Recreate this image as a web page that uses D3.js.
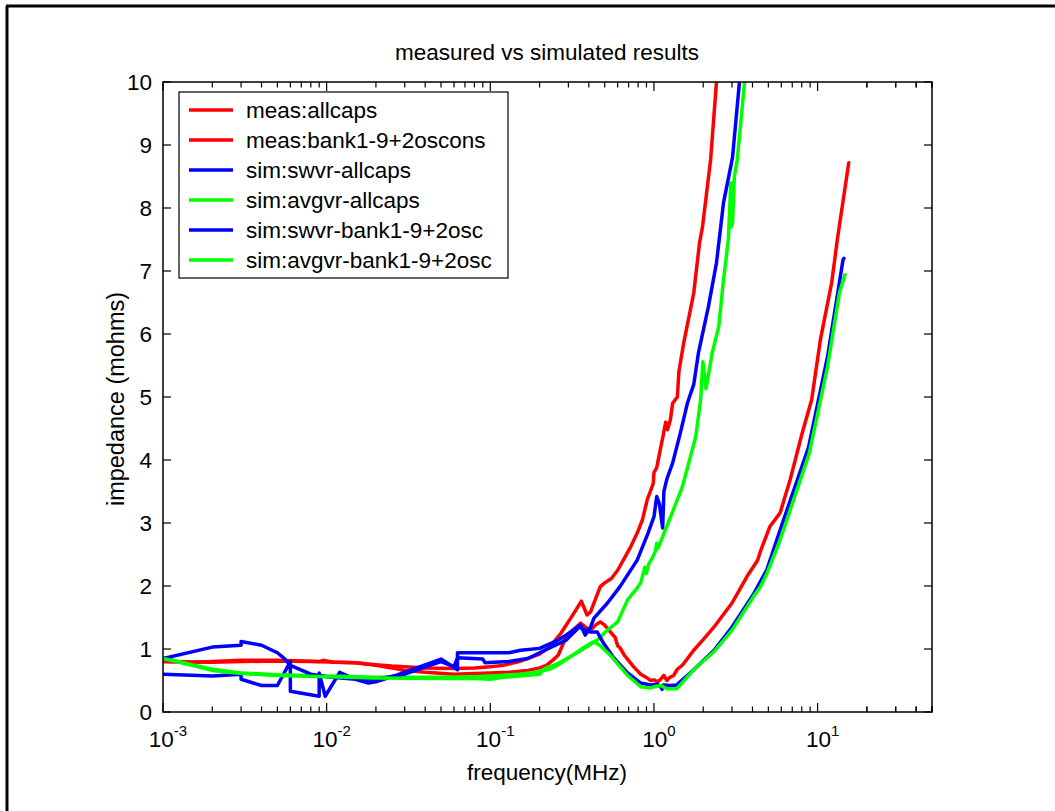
<!DOCTYPE html>
<html><head><meta charset="utf-8">
<script src="https://cdn.jsdelivr.net/npm/d3@7"></script>
<style>
html,body{margin:0;padding:0;background:#fff;}
text{font-family:"Liberation Sans",Arial,sans-serif;fill:#000;}
</style></head>
<body>
<svg id="c" width="1055" height="811"></svg>
<script>
// ---- data (frequency MHz, impedance mohms) ----
const seriesNames = ["meas:allcaps","meas:bank1-9+2oscons","sim:swvr-allcaps","sim:avgvr-allcaps","sim:swvr-bank1-9+2osc","sim:avgvr-bank1-9+2osc"];
const seriesColors = ["#ff0000","#ff0000","#0000ff","#00ff00","#0000ff","#00ff00"];

const measAllcaps = [[0.001,0.80],[0.0015,0.79],[0.002,0.80],[0.003,0.82],[0.005,0.82],[0.007,0.81],[0.009,0.80],[0.0095,0.82],[0.011,0.79],[0.015,0.78],[0.02,0.75],[0.025,0.73],[0.03,0.72],[0.04,0.70],[0.06,0.69],[0.08,0.70],[0.1,0.72],[0.12,0.74],[0.15,0.80],[0.2,0.92],[0.23,1.03],[0.27,1.25],[0.31,1.49],[0.33,1.60],[0.36,1.76],[0.39,1.54],[0.41,1.59],[0.44,1.80],[0.47,1.99],[0.5,2.05],[0.55,2.12],[0.6,2.25],[0.65,2.41],[0.72,2.62],[0.79,2.84],[0.85,3.05],[0.91,3.37],[0.95,3.5],[0.99,3.63],[1.0,3.8],[1.04,3.88],[1.1,4.2],[1.14,4.4],[1.18,4.6],[1.21,4.48],[1.26,4.64],[1.3,4.9],[1.39,5.0],[1.42,5.4],[1.52,5.86],[1.75,6.65],[1.9,7.45],[1.98,7.7],[2.22,8.77],[2.41,10.0]];

const measBank = [[0.001,0.80],[0.002,0.79],[0.003,0.80],[0.005,0.81],[0.008,0.80],[0.012,0.79],[0.015,0.78],[0.02,0.74],[0.025,0.70],[0.03,0.66],[0.04,0.63],[0.06,0.60],[0.08,0.61],[0.1,0.62],[0.13,0.63],[0.17,0.66],[0.2,0.70],[0.22,0.74],[0.24,0.82],[0.26,0.90],[0.29,1.19],[0.32,1.3],[0.356,1.41],[0.38,1.35],[0.41,1.3],[0.44,1.38],[0.47,1.43],[0.5,1.38],[0.53,1.3],[0.58,1.18],[0.6,1.05],[0.62,1.02],[0.66,0.9],[0.75,0.72],[0.83,0.6],[0.91,0.54],[0.95,0.5],[1.0,0.51],[1.05,0.48],[1.09,0.51],[1.15,0.58],[1.2,0.5],[1.25,0.55],[1.32,0.58],[1.38,0.67],[1.5,0.75],[1.75,0.98],[2.0,1.15],[2.33,1.35],[3.0,1.73],[3.7,2.15],[4.3,2.41],[4.5,2.57],[5.1,2.94],[5.9,3.16],[6.8,3.69],[8.0,4.4],[9.2,4.96],[10.4,5.91],[12.2,6.82],[13.2,7.5],[15.5,8.72]];

const simSwvrAllcaps = [[0.001,0.60],[0.002,0.57],[0.003,0.60],[0.003,0.52],[0.004,0.42],[0.005,0.42],[0.006,0.80],[0.006,0.33],[0.009,0.25],[0.009,0.62],[0.0098,0.25],[0.012,0.63],[0.015,0.52],[0.018,0.46],[0.02,0.48],[0.027,0.59],[0.05,0.84],[0.063,0.67],[0.063,0.94],[0.09,0.94],[0.13,0.94],[0.153,0.98],[0.2,1.01],[0.25,1.12],[0.29,1.22],[0.356,1.38],[0.38,1.22],[0.41,1.35],[0.43,1.49],[0.52,1.73],[0.62,1.99],[0.79,2.41],[0.92,2.84],[1.0,3.1],[1.04,3.42],[1.08,3.3],[1.13,2.92],[1.15,3.5],[1.2,3.7],[1.3,3.95],[1.45,4.43],[1.6,4.9],[1.75,5.2],[1.87,5.7],[2.15,6.43],[2.41,7.13],[2.66,8.08],[3.02,8.8],[3.33,10.0]];

const simAvgvrAllcaps = [[0.001,0.86],[0.0015,0.75],[0.002,0.68],[0.003,0.62],[0.005,0.59],[0.01,0.57],[0.02,0.55],[0.05,0.55],[0.08,0.56],[0.1,0.57],[0.15,0.6],[0.2,0.64],[0.22,0.70],[0.25,0.75],[0.31,0.88],[0.37,1.0],[0.45,1.14],[0.52,1.3],[0.6,1.43],[0.69,1.78],[0.78,1.95],[0.83,2.05],[0.88,2.3],[0.9,2.2],[0.93,2.35],[0.98,2.45],[1.02,2.55],[1.04,2.68],[1.06,2.6],[1.2,2.95],[1.39,3.37],[1.49,3.57],[1.8,4.37],[1.93,4.96],[1.99,5.56],[2.08,5.13],[2.27,5.7],[2.49,6.12],[2.66,6.86],[2.85,7.5],[2.95,8.4],[2.97,7.7],[3.0,8.3],[3.02,7.75],[3.1,8.5],[3.23,8.77],[3.58,10.0]];

const simSwvrBank = [[0.001,0.85],[0.002,1.03],[0.003,1.06],[0.003,1.12],[0.004,1.06],[0.005,0.94],[0.0055,0.85],[0.006,0.74],[0.008,0.6],[0.01,0.56],[0.015,0.52],[0.02,0.52],[0.03,0.6],[0.05,0.8],[0.06,0.72],[0.063,0.86],[0.09,0.84],[0.093,0.78],[0.13,0.8],[0.17,0.85],[0.2,0.94],[0.29,1.14],[0.35,1.35],[0.38,1.3],[0.41,1.27],[0.45,1.27],[0.49,1.1],[0.56,0.88],[0.69,0.62],[0.83,0.46],[0.95,0.43],[1.05,0.44],[1.1,0.4],[1.12,0.36],[1.14,0.43],[1.25,0.42],[1.38,0.43],[1.75,0.67],[2.33,0.98],[3.0,1.35],[4.1,1.89],[4.9,2.26],[5.9,2.89],[8.8,4.2],[11.5,5.64],[14.3,7.18],[14.5,7.2]];

const simAvgvrBank = [[0.001,0.85],[0.0015,0.74],[0.002,0.66],[0.003,0.61],[0.005,0.58],[0.01,0.56],[0.02,0.54],[0.05,0.53],[0.08,0.53],[0.1,0.52],[0.12,0.55],[0.15,0.57],[0.2,0.6],[0.21,0.66],[0.23,0.68],[0.25,0.72],[0.31,0.88],[0.37,1.02],[0.43,1.12],[0.47,1.05],[0.55,0.88],[0.62,0.72],[0.69,0.58],[0.75,0.5],[0.83,0.4],[0.95,0.38],[1.0,0.4],[1.1,0.42],[1.2,0.37],[1.38,0.37],[1.75,0.67],[2.33,0.96],[3.0,1.3],[4.1,1.85],[4.48,1.99],[4.9,2.2],[5.9,2.73],[8.9,4.11],[11.5,5.48],[13.6,6.66],[14.7,6.94]];

const allSeries = [measAllcaps, measBank, simSwvrAllcaps, simAvgvrAllcaps, simSwvrBank, simAvgvrBank];

const xDomain = [1e-3, 50];
const yDomain = [0, 10];
const yTicks = [0,1,2,3,4,5,6,7,8,9,10];
const xMajorExps = [-3,-2,-1,0,1];
const titleText = "measured vs simulated results";
const xLabelText = "frequency(MHz)";
const yLabelText = "impedance (mohms)";

// ---- layout ----
const L = 163, R = 932, T = 82, B = 712;
const FS = 22.5;
const svg = d3.select("#c");

// figure border (left & top visible)
svg.append("line").attr("x1",7).attr("y1",6).attr("x2",7).attr("y2",811).attr("stroke","#000").attr("stroke-width",3);
svg.append("line").attr("x1",6).attr("y1",6).attr("x2",1055).attr("y2",6).attr("stroke","#000").attr("stroke-width",3);

const x = d3.scaleLog().domain(xDomain).range([L, R]);
const y = d3.scaleLinear().domain(yDomain).range([B, T]);

svg.append("defs").append("clipPath").attr("id","clip")
  .append("rect").attr("x",L).attr("y",T).attr("width",R-L).attr("height",B-T);

// lines
const line = d3.line().x(d => x(d[0])).y(d => y(d[1]));
const g = svg.append("g").attr("clip-path","url(#clip)");
allSeries.forEach((s,i) => {
  g.append("path").datum(s).attr("d", line)
    .attr("fill","none").attr("stroke", seriesColors[i])
    .attr("stroke-width",3.5).attr("stroke-linejoin","round").attr("stroke-linecap","round");
});

// axes frame
const axG = svg.append("g");
axG.append("rect").attr("x",L).attr("y",T).attr("width",R-L).attr("height",B-T)
  .attr("fill","none").attr("stroke","#000").attr("stroke-width",1.5);

// x ticks (major+minor) on bottom and top
const xTickVals = [];
for (let e=-3; e<=1; e++) for (let m=1; m<=9; m++) { const v = m*Math.pow(10,e); if (v<=50) xTickVals.push({v, major:m===1}); }
xTickVals.push({v:20,major:false},{v:30,major:false},{v:40,major:false},{v:50,major:false});
xTickVals.forEach(t => {
  const px = x(t.v);
  const len = t.major ? 9 : 5.5;
  axG.append("line").attr("x1",px).attr("x2",px).attr("y1",B).attr("y2",B-len).attr("stroke","#000").attr("stroke-width",1.2);
  axG.append("line").attr("x1",px).attr("x2",px).attr("y1",T).attr("y2",T+len).attr("stroke","#000").attr("stroke-width",1.2);
});
// y ticks left and right
yTicks.forEach(v => {
  const py = y(v);
  axG.append("line").attr("x1",L).attr("x2",L+8).attr("y1",py).attr("y2",py).attr("stroke","#000").attr("stroke-width",1.2);
  axG.append("line").attr("x1",R).attr("x2",R-8).attr("y1",py).attr("y2",py).attr("stroke","#000").attr("stroke-width",1.2);
  axG.append("text").attr("x",152).attr("y",py).attr("dy","0.36em").attr("text-anchor","end")
    .attr("font-size",FS).text(v);
});
// x tick labels
xMajorExps.forEach(e => {
  const t = axG.append("text").attr("x", x(Math.pow(10,e))+5).attr("y",747).attr("text-anchor","middle").attr("font-size",FS);
  t.append("tspan").text("10");
  t.append("tspan").attr("font-size",15).attr("dy",-11).text(String(e));
});

// title & labels
svg.append("text").attr("x",547).attr("y",60).attr("text-anchor","middle").attr("font-size",FS).text(titleText);
svg.append("text").attr("x",547).attr("y",780).attr("text-anchor","middle").attr("font-size",FS).text(xLabelText);
svg.append("text").attr("transform","translate(124,399) rotate(-90)").attr("text-anchor","middle").attr("font-size",23.5).text(yLabelText);

// legend
const lg = svg.append("g");
lg.append("rect").attr("x",179).attr("y",92).attr("width",329).attr("height",186)
  .attr("fill","#fff").attr("stroke","#000").attr("stroke-width",1.2);
seriesNames.forEach((n,i) => {
  const cy = 110 + i*30;
  lg.append("line").attr("x1",189).attr("x2",233).attr("y1",cy).attr("y2",cy)
    .attr("stroke",seriesColors[i]).attr("stroke-width",3.5);
  lg.append("text").attr("x",246).attr("y",cy).attr("dy","0.36em").attr("font-size",FS).text(n);
});
</script>
</body></html>
